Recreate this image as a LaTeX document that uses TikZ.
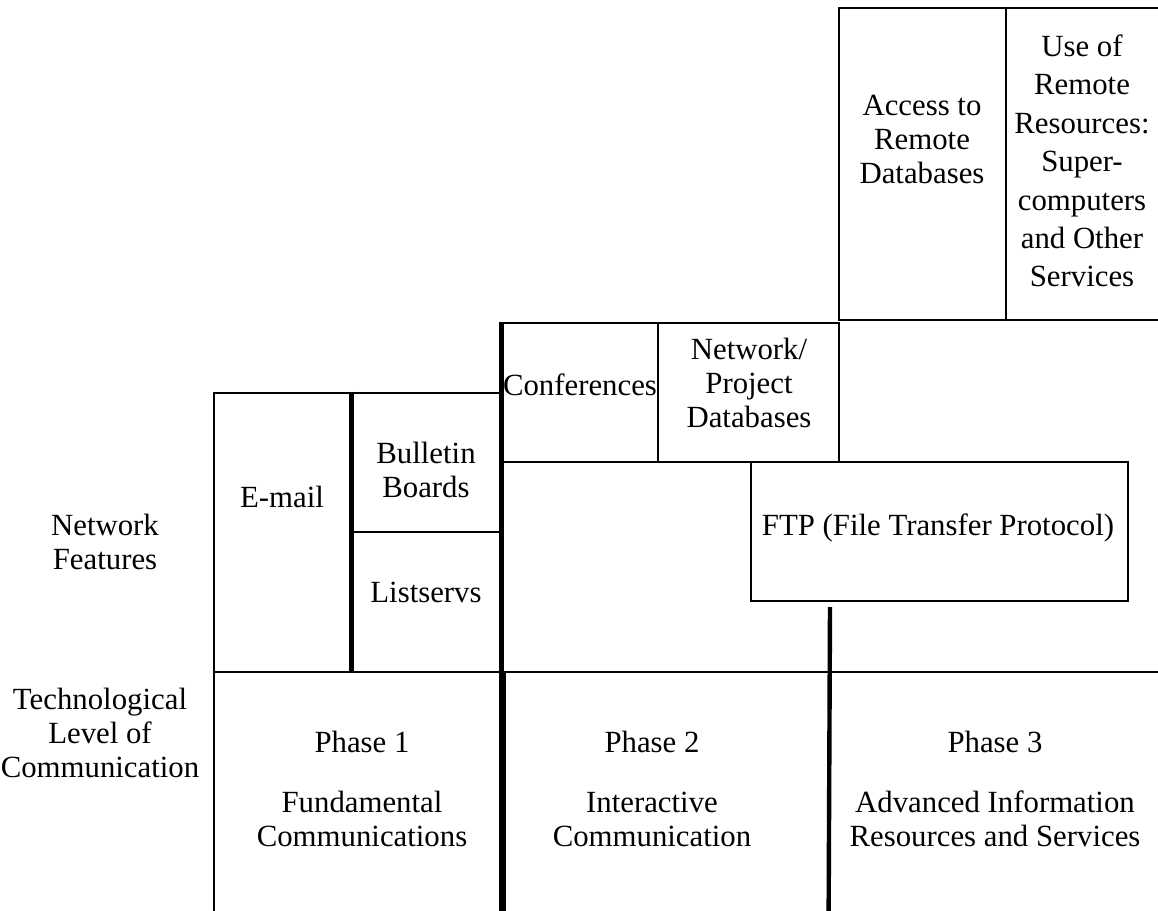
\documentclass[tikz,border=0pt]{standalone}
\usepackage{fontspec}
\setmainfont{Liberation Serif}
\usetikzlibrary{fit}

\tikzstyle{cell}=[draw=black, line width=1.4pt, inner sep=0pt]
\tikzstyle{caption}=[align=center, inner sep=0pt]
\tikzstyle{heavy}=[line width=2.2pt]

\begin{document}
\begin{tikzpicture}[x=0.5pt, y=-0.5pt, font=\fontsize{15.4pt}{17pt}\selectfont]
\useasboundingbox (0,0) rectangle (1158,911);
\clip (0,0) rectangle (1158,911);

% phase 3 features
\node(access)[cell, fit={(839,8) (1006,320)}]{};
\node(remote)[cell, fit={(1006,8) (1160,320)}]{};
\node(accesstxt)[caption] at (922,139){Access to\\Remote\\Databases};
\node(remotetxt)[caption] at (1082,161){Use of\\[2.2pt]Remote\\[2.2pt]Resources:\\[2.2pt]Super-\\[2.2pt]computers\\[2.2pt]and Other\\[2.2pt]Services};

% phase 2 features
\node(conf)[cell, fit={(503,323) (658,462)}]{};
\node(netdb)[cell, fit={(658,323) (839,462)}]{};
\node(ftp)[cell, fit={(751,462) (1128,601)}]{};
\node(conftxt)[caption] at (580,385){Conferences};
\node(netdbtxt)[caption] at (749,383){Network/\\Project\\Databases};
\node(ftptxt)[caption] at (938,528){FTP (File Transfer Protocol)};

% phase 1 features
\node(email)[cell, fit={(214,393) (350,672)}]{};
\node(bulletin)[cell, fit={(350,393) (503,532)}]{};
\node(listserv)[cell, fit={(350,532) (503,672)}]{};
\node(emailtxt)[caption] at (282,497){E-mail};
\node(bulletintxt)[caption] at (426,470){Bulletin\\Boards};
\node(listservtxt)[caption] at (426,592){Listservs};

% phases
\node(phaseone)[cell, fit={(214,672) (505,918)}]{};
\node(phasetwo)[cell, fit={(505,672) (830,918)}]{};
\node(phasethree)[cell, fit={(830,672) (1162,918)}]{};
\node(phaseonetxt)[caption] at (362,789){Phase 1\\[13pt]Fundamental\\Communications};
\node(phasetwotxt)[caption] at (652,789){Phase 2\\[13pt]Interactive\\Communication};
\node(phasethreetxt)[caption] at (995,789){Phase 3\\[13pt]Advanced Information\\Resources and Services};

% heavier dividers
\coordinate(gapend) at (830,607);
\draw[heavy](email.north east)--(email.south east);
\draw[heavy](conf.north west)--(conf.north west |- phaseone.south east);
\draw[heavy](gapend)--(phasethree.south west);

% row captions
\node(features)[caption] at (105,542){Network\\Features};
\node(techlevel)[caption] at (100,733){Technological\\Level of\\Communication};

\end{tikzpicture}
\end{document}
